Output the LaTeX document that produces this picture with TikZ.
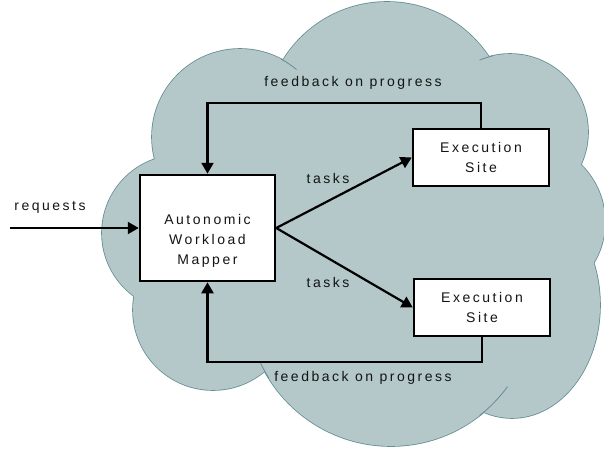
\documentclass[tikz,border=0pt]{standalone}
\usepackage{fontspec}
\setmainfont{Liberation Sans}[LetterSpace=18]
\usetikzlibrary{arrows.meta}
\definecolor{cloudfill}{RGB}{180,199,201}
\definecolor{cloudline}{RGB}{100,142,146}
\definecolor{ink}{RGB}{20,20,20}
\begin{document}
\begin{tikzpicture}[x=1pt,y=1pt,
  lbl/.style={inner sep=0pt, align=center, text=ink, font=\fontsize{14}{20.2}\selectfont},
  box/.style={draw=black, line width=2.5pt, fill=white, inner sep=0pt, lbl},
  conn/.style={draw=black, line width=2.2pt, -{Triangle[length=11pt,width=12pt]}},
  lobe/.style={draw=cloudline, line width=1.6pt},
  tail/.style={draw=cloudline, line width=0.8pt}]
\useasboundingbox (0,0) rectangle (604,448);
% cloud: outline pass then fill pass
\path[lobe] (387,324) circle (122) (240,311) circle (88) (180,215) circle (78)
  (213,138) circle (80) (391,146) circle (144) (512,143) ellipse [x radius=88,y radius=113]
  (525,226) circle (80) (510,316) circle (78);
\fill[cloudfill] (387,324) circle (122) (240,311) circle (88) (180,215) circle (78)
  (213,138) circle (80) (391,146) circle (144) (512,143) ellipse [x radius=88,y radius=113]
  (525,226) circle (80) (510,316) circle (78);
\path[tail] (391,146) ++(205:144) arc[start angle=205,end angle=212,radius=144];
\path[tail] (391,146) ++(308:144) arc[start angle=308,end angle=324,radius=144];
\path[tail] (240,311) ++(50:88) arc[start angle=50,end angle=62,radius=88];
\path[tail] (510,316) ++(103:78) arc[start angle=103,end angle=113,radius=78];
% boxes
\node[box, minimum width=135pt, minimum height=106pt] (awm) at (207.5,220) {};
\node[lbl] (awmtext) at (207.5,207) {Autonomic\\Workload\\Mapper};
\node[box, minimum width=136pt, minimum height=57pt] (es1) at (481,290.5) {Execution\\Site};
\node[box, minimum width=136pt, minimum height=57pt] (es2) at (482,140.5) {Execution\\Site};
% coordinates for connector ends and bends
\coordinate (req) at (10,220);
\coordinate (ftop) at (0,345);
\coordinate (fbot) at (0,86);
% connectors
\draw[conn] (req) -- (awm.west);
\draw[conn] (awm.east) -- (es1.west);
\draw[conn] (awm.east) -- (es2.west);
\draw[conn] (es1.north) -- (es1.north |- ftop) -- (awm.north |- ftop) -- (awm.north);
\draw[conn] (es2.south) -- (es2.south |- fbot) -- (awm.south |- fbot) -- (awm.south);
% labels
\node[lbl, anchor=base] (reqlbl) at (50,238) {requests};
\node[lbl, anchor=base] (fbtop) at (353,361.5) {feedback on progress};
\node[lbl, anchor=base] (fbbot) at (363,66.3) {feedback on progress};
\node[lbl, anchor=base] (tasks1) at (328,265) {tasks};
\node[lbl, anchor=base] (tasks2) at (328,161) {tasks};
\end{tikzpicture}
\end{document}
